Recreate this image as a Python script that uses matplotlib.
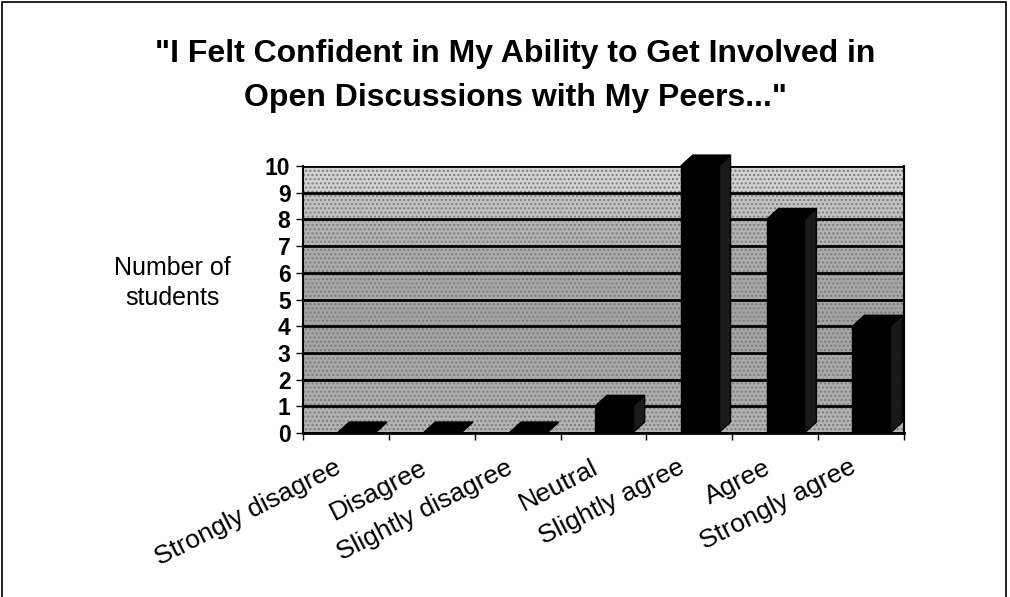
import matplotlib
matplotlib.use('Agg')
import matplotlib.pyplot as plt
from matplotlib.patches import Polygon, Rectangle

categories = ['Strongly disagree', 'Disagree', 'Slightly disagree', 'Neutral',
              'Slightly agree', 'Agree', 'Strongly agree']
counts = [0, 0, 0, 1, 10, 8, 4]
yticks = list(range(0, 11))

title = '"I Felt Confident in My Ability to Get Involved in\nOpen Discussions with My Peers..."'
ylabel = 'Number of\nstudents'

plt.rcParams['font.family'] = ['Liberation Sans', 'DejaVu Sans']


def draw_column(ax, x0, width, value, dx, dy):
    # front face, right side and top of a 3-D style column
    x1 = x0 + width
    if value > 0:
        ax.add_patch(Polygon([(x1, 0), (x1 + dx, dy), (x1 + dx, value + dy), (x1, value)],
                             closed=True, facecolor='#1a1a1a', edgecolor='black', lw=1,
                             zorder=4, clip_on=False))
        ax.add_patch(Rectangle((x0, 0), width, value, facecolor='black',
                               edgecolor='black', lw=1, zorder=5, clip_on=False))
    ax.add_patch(Polygon([(x0, value), (x0 + dx, value + dy), (x1 + dx, value + dy), (x1, value)],
                         closed=True, facecolor='black', edgecolor='black', lw=1,
                         zorder=6, clip_on=False))


def main():
    fig = plt.figure(figsize=(10.10, 5.97), dpi=100)
    ax = fig.add_axes([0.300, 0.2747, 0.595, 0.4472])

    n = len(categories)
    ax.set_xlim(0, n)
    ax.set_ylim(0, 10)

    # shaded wall bands behind the columns
    shades = ['#b4b4b4', '#aeaeae', '#a9a9a9', '#a6a6a6', '#a4a4a4',
              '#a8a8a8', '#acacac', '#b2b2b2', '#c2c2c2', '#d2d2d2']
    for i, c in enumerate(shades):
        ax.add_patch(Rectangle((0, i), n, 1, facecolor=c, edgecolor='#7a7a7a',
                               hatch='....', lw=0, zorder=0))
    for y in yticks:
        ax.axhline(y, color='black', lw=2, zorder=1)

    depth_x = 0.14
    depth_y = 0.41
    for i, v in enumerate(counts):
        draw_column(ax, i + 0.40, 0.44, v, depth_x, depth_y)

    ax.spines['top'].set_visible(False)
    ax.spines['left'].set_linewidth(1.5)
    ax.spines['right'].set_linewidth(1.5)
    ax.spines['bottom'].set_linewidth(2)

    ax.set_yticks(yticks)
    ax.set_yticklabels([str(t) for t in yticks], fontsize=16.5, fontweight='bold')
    ax.tick_params(axis='y', length=5, width=1, direction='out', pad=4)

    # category separators as minor ticks, labels hang just left of each centre
    ax.set_xticks(range(n + 1), minor=True)
    ax.tick_params(axis='x', which='minor', length=5, width=1, direction='out')
    ax.set_xticks([i + 0.36 for i in range(n)])
    ax.set_xticklabels(categories, rotation=27, ha='right', va='top',
                       rotation_mode='anchor', fontsize=19)
    ax.tick_params(axis='x', which='major', length=0, pad=16)

    fig.text(0.171, 0.526, ylabel, ha='center', va='center', fontsize=18,
             linespacing=1.3)
    fig.text(0.510, 0.873, title, ha='center', va='center', fontsize=23,
             fontweight='bold', linespacing=1.6)

    fig.patches.append(Rectangle((0.002, -0.05), 0.994, 1.047, transform=fig.transFigure,
                                 fill=False, edgecolor='black', lw=1.2))

    fig.savefig('out.png', dpi=100)


if __name__ == '__main__':
    main()
